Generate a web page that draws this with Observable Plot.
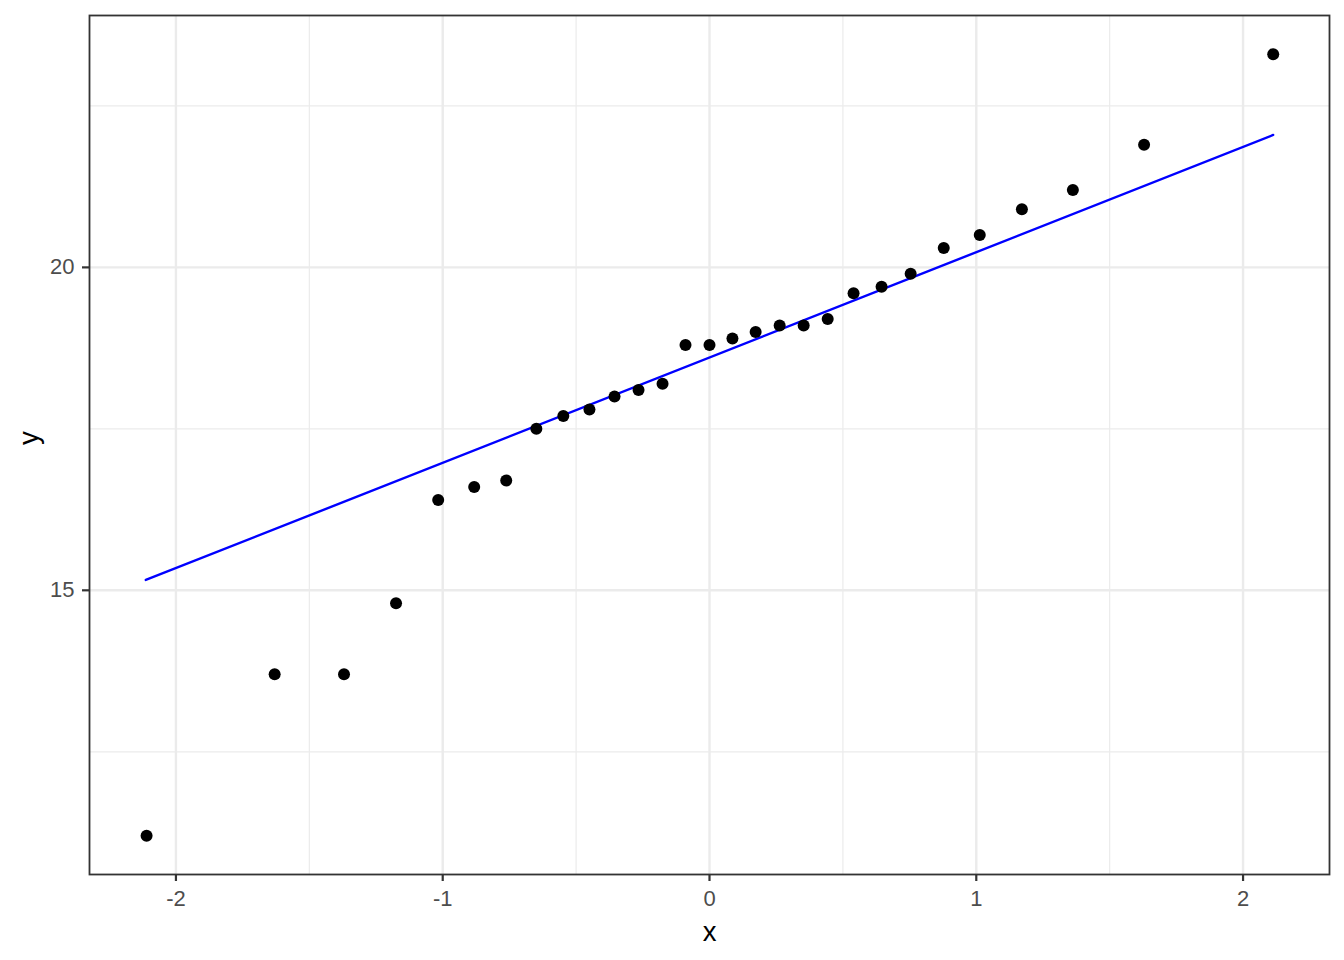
<!DOCTYPE html>
<html>
<head>
<meta charset="utf-8">
<script src="https://cdn.jsdelivr.net/npm/d3@7"></script>
<script src="https://cdn.jsdelivr.net/npm/@observablehq/plot@0.6"></script>
<style>
  html, body { margin: 0; padding: 0; background: #fff; }
  #chart svg { display: block; }
</style>
</head>
<body>
<div id="chart"></div>
<script>
// Theoretical quantiles (x) and sample values (y)
const theoretical = [-2.11, -1.63, -1.37, -1.175, -1.017, -0.882, -0.762, -0.649, -0.548, -0.450,
  -0.356, -0.266, -0.176, -0.090, 0, 0.086, 0.173, 0.263, 0.353, 0.443,
  0.540, 0.645, 0.754, 0.878, 1.013, 1.171, 1.362, 1.629, 2.113];
const sample = [11.2, 13.7, 13.7, 14.8, 16.4, 16.6, 16.7, 17.5, 17.7, 17.8,
  18.0, 18.1, 18.2, 18.8, 18.8, 18.9, 19.0, 19.1, 19.1, 19.2,
  19.6, 19.7, 19.9, 20.3, 20.5, 20.9, 21.2, 21.9, 23.3];
// Reference line end points
const lineX = [-2.113, 2.113];
const lineY = [15.16, 22.05];
// Tick / grid values
const xMajor = [-2, -1, 0, 1, 2];
const xMinor = [-1.5, -0.5, 0.5, 1.5];
const yMajor = [15, 20];
const yMinor = [12.5, 17.5, 22.5];

const points = theoretical.map((x, i) => ({x, y: sample[i]}));
const line = lineX.map((x, i) => ({x, y: lineY[i]}));

const font = "'Liberation Sans', Arial, Helvetica, sans-serif";

const chart = Plot.plot({
  width: 1344,
  height: 960,
  marginLeft: 89,
  marginRight: 15,
  marginTop: 15,
  marginBottom: 86,
  style: {fontFamily: font, fontSize: "22px", background: "#fff"},
  x: {domain: [-2.324, 2.324]},
  y: {domain: [10.6, 23.9]},
  marks: [
    Plot.ruleX(xMinor, {stroke: "#EBEBEB", strokeWidth: 1.2}),
    Plot.ruleY(yMinor, {stroke: "#EBEBEB", strokeWidth: 1.2}),
    Plot.ruleX(xMajor, {stroke: "#EBEBEB", strokeWidth: 2.4}),
    Plot.ruleY(yMajor, {stroke: "#EBEBEB", strokeWidth: 2.4}),
    Plot.axisX(xMajor, {tickSize: 7, tickPadding: 9, stroke: "#333333", strokeWidth: 2.2, fill: "#4D4D4D", fontSize: 22, label: null, tickFormat: d => String(d)}),
    Plot.axisY(yMajor, {tickSize: 7, tickPadding: 8, stroke: "#333333", strokeWidth: 2.2, fill: "#4D4D4D", fontSize: 22, label: null, tickFormat: d => String(d)}),
    Plot.line(line, {x: "x", y: "y", stroke: "#0000FF", strokeWidth: 2.4}),
    Plot.dot(points, {x: "x", y: "y", r: 6, fill: "#000", stroke: null}),
    Plot.frame({stroke: "#333333", strokeWidth: 1.8}),
    Plot.text(["x"], {frameAnchor: "bottom", dy: 66, text: d => d, fontSize: 27.5, fill: "#000"}),
    Plot.text(["y"], {frameAnchor: "left", dx: -60, rotate: -90, text: d => d, fontSize: 27.5, fill: "#000"})
  ]
});
document.getElementById("chart").appendChild(chart);
</script>
</body>
</html>
